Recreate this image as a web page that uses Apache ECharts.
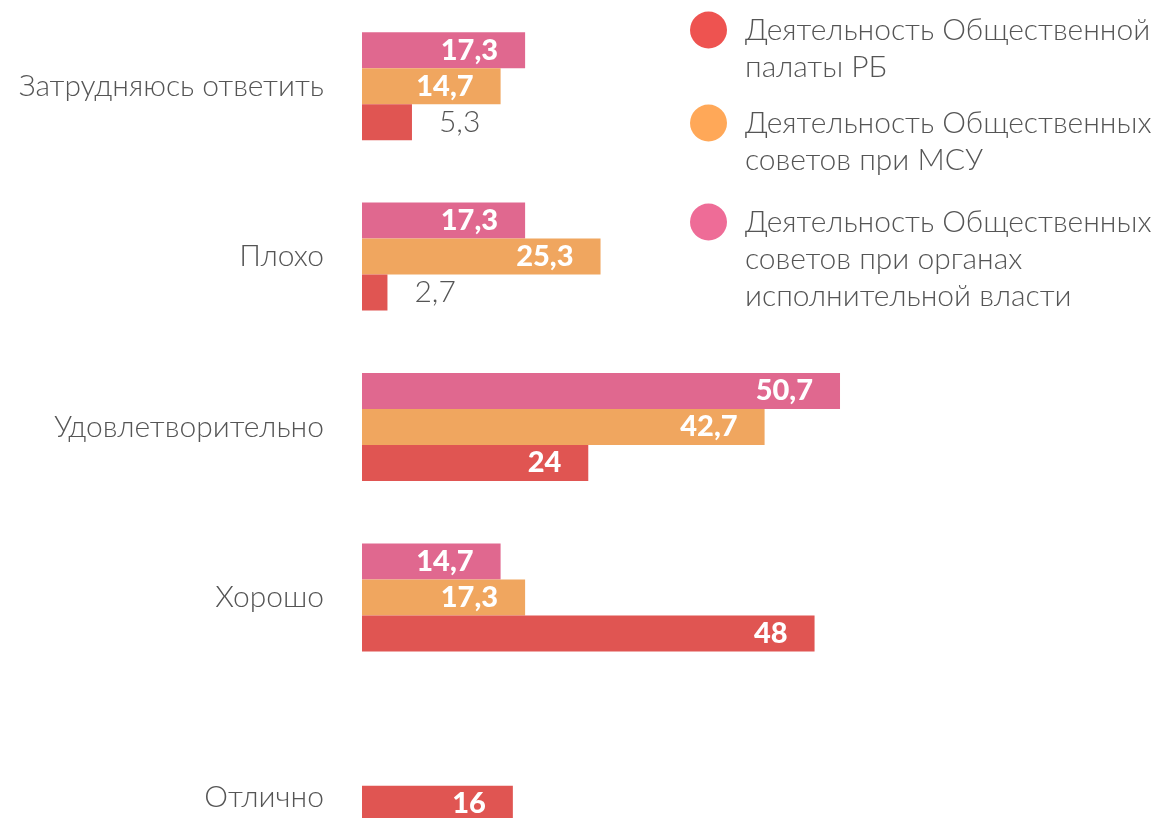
<!DOCTYPE html>
<html>
<head>
<meta charset="utf-8">
<script src="https://cdn.jsdelivr.net/npm/echarts@6/dist/echarts.min.js"></script>
<style>html,body{margin:0;padding:0;background:#fff}#c{width:1169px;height:818px}</style>
</head>
<body>
<div id="c"></div>
<script>
const categories = ['Затрудняюсь ответить', 'Плохо', 'Удовлетворительно', 'Хорошо', 'Отлично'];
const seriesNames = ['Деятельность Общественной палаты РБ', 'Деятельность Общественных советов при МСУ', 'Деятельность Общественных советов при органах исполнительной власти'];
const legendText = ['Деятельность Общественной\nпалаты РБ', 'Деятельность Общественных\nсоветов при МСУ', 'Деятельность Общественных\nсоветов при органах\nисполнительной власти'];
const palataRB = [5.3, 2.7, 24, 48, 16];
const sovetyMSU = [14.7, 25.3, 42.7, 17.3, null];
const sovetyOIV = [17.3, 17.3, 50.7, 14.7, null];

const barColors = ['#E05552', '#F0A65F', '#E0688F'];
const legendColors = ['#EE5350', '#FFA858', '#EE6C97'];
const FONT = 'Lato';
const fmt = v => String(v).replace('.', ',');

function buildData(arr) {
  return arr.map(v => {
    if (v == null) return null;
    if (v < 10) return { value: v, label: { position: 'right', distance: 27, color: '#555', fontWeight: 300, fontSize: 30, fontFamily: FONT } };
    return v;
  });
}

const seriesValues = [palataRB, sovetyMSU, sovetyOIV];
const chart = echarts.init(document.getElementById('c'), null, { renderer: 'canvas' });

const legendCenters = [30, 123, 222];
const LH = 37;
const legends = seriesNames.map((name, i) => {
  const lines = legendText[i].split('\n').length;
  const txt = '\n'.repeat(lines - 1) + legendText[i];
  const half = (2 * lines - 1) * LH / 2;
  return {
    data: [{ name: name, icon: 'circle', itemStyle: { color: legendColors[i] } }],
    left: 690, top: legendCenters[i] - half, padding: 0,
    itemWidth: 37, itemHeight: 37, itemGap: 0,
    selectedMode: false,
    formatter: () => txt,
    textStyle: { fontFamily: FONT, fontWeight: 300, fontSize: 30, color: '#555', lineHeight: LH, padding: [0, 0, 0, 13] }
  };
});

const order = [2, 1, 0];
const series = order.map(i => ({
  name: seriesNames[i],
  type: 'bar',
  data: buildData(seriesValues[i]),
  barWidth: 36,
  barGap: '0%',
  itemStyle: { color: barColors[i] },
  label: {
    show: true, position: 'insideRight', distance: 27,
    color: '#fff', fontFamily: FONT, fontWeight: 900, fontSize: 29,
    formatter: p => fmt(p.value)
  }
}));

chart.setOption({
  animation: false,
  legend: legends,
  grid: { left: 362, top: 1, height: 852, width: 565.7, containLabel: false, outerBoundsMode: 'none' },
  xAxis: { type: 'value', min: 0, max: 60, show: false },
  yAxis: {
    type: 'category', data: categories, inverse: true,
    axisLine: { show: false }, axisTick: { show: false }, splitLine: { show: false },
    axisLabel: {
      margin: 38, fontFamily: FONT, fontWeight: 300, fontSize: 30, color: '#555',
      formatter: v => v === 'Отлично' ? '{low|' + v + '}' : v,
      rich: { low: { fontFamily: FONT, fontWeight: 300, fontSize: 30, color: '#555', padding: [60, 0, 0, 0] } }
    }
  },
  series: series
});
</script>
</body>
</html>
